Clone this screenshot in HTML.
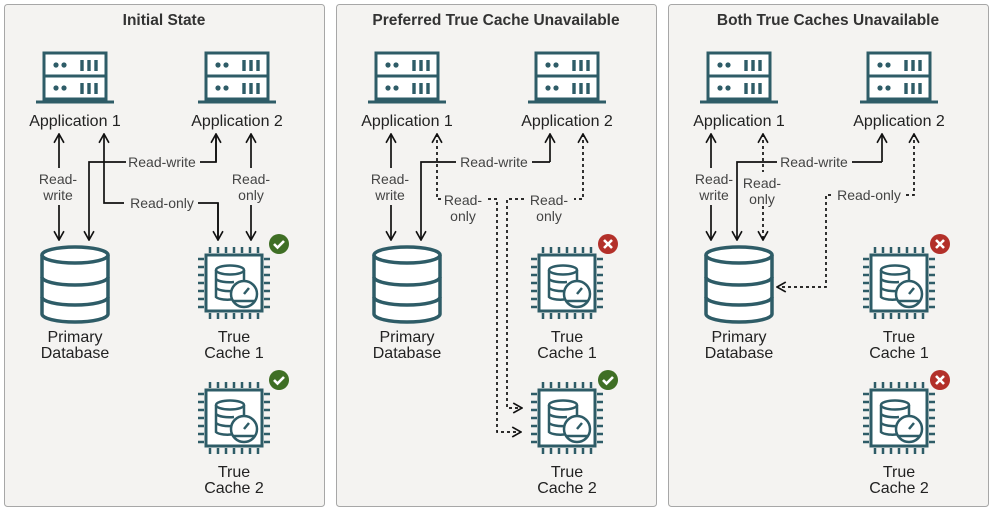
<!DOCTYPE html>
<html><head><meta charset="utf-8"><style>
html,body{margin:0;padding:0;background:#fff;}
svg{display:block;font-family:"Liberation Sans",sans-serif;}
text{fill:#222;}
.t{font-size:15.5px;font-weight:bold;text-anchor:middle;fill:#333;}
.l{font-size:16px;text-anchor:middle;}
.s{font-size:14px;text-anchor:middle;fill:#444;}
.ln{fill:none;stroke:#111;stroke-width:1.7;}
.dl{fill:none;stroke:#111;stroke-width:1.7;stroke-dasharray:3 3;}
</style></head><body>
<svg width="992" height="512" viewBox="0 0 992 512" xmlns="http://www.w3.org/2000/svg">
<defs>
<g id="srv" fill="none" stroke="#2e5c67" stroke-width="3">
 <rect x="-31" y="-24" width="62" height="46" fill="#fff"/>
 <line x1="-31" y1="-1" x2="31" y2="-1"/>
 <line x1="-39" y1="25" x2="39" y2="25" stroke-width="3"/>
 <circle cx="-19" cy="-12" r="2.6" fill="#2e5c67" stroke="none"/><circle cx="-11" cy="-12" r="2.6" fill="#2e5c67" stroke="none"/>
 <circle cx="-19" cy="11" r="2.6" fill="#2e5c67" stroke="none"/><circle cx="-11" cy="11" r="2.6" fill="#2e5c67" stroke="none"/>
 <path d="M7 -17v11M14 -17v11M21 -17v11M7 6v11M14 6v11M21 6v11" stroke-width="3.4"/>
</g>
<g id="db" fill="#fff" stroke="#2e5c67" stroke-width="3.5">
 <path d="M-33 0 V59 A33 8 0 0 0 33 59 V0"/>
 <ellipse cx="0" cy="0" rx="33" ry="8"/>
 <path d="M-33 22 A33 8 0 0 0 33 22 M-33 42 A33 8 0 0 0 33 42" fill="none"/>
</g>
<g id="chip" stroke="#2e5c67">
 <rect x="-28" y="-28" width="56" height="56" fill="#fff" stroke-width="3"/>
 <path d="M-24 -36v6M-16 -36v6M-8 -36v6M0 -36v6M8 -36v6M16 -36v6M24 -36v6M-24 30v6M-16 30v6M-8 30v6M0 30v6M8 30v6M16 30v6M24 30v6M-36 -24h6M-36 -16h6M-36 -8h6M-36 0h6M-36 8h6M-36 16h6M-36 24h6M30 -24h6M30 -16h6M30 -8h6M30 0h6M30 8h6M30 16h6M30 24h6" stroke-width="2.5"/>
 <g fill="none" stroke-width="2.5">
  <path d="M-18 -13 V14 A12 4 0 0 0 0 16"/>
  <ellipse cx="-4" cy="-13" rx="14" ry="4.5"/>
  <path d="M10 -13 V0 M-18 -4 A14 4.5 0 0 0 0 -1 M-18 5 A14 4.5 0 0 0 -2 8"/>
  <circle cx="10" cy="11" r="13" fill="#fff"/>
  <path d="M-1 18 H21"/>
  <path d="M10 11 L15 5" stroke-width="2.5"/>
 </g>
</g>
<g id="ok"><circle r="10" fill="#3f6f25"/><path d="M-5 0 L-1.5 3.5 L5 -3" fill="none" stroke="#fff" stroke-width="2.6"/></g>
<g id="no"><circle r="10" fill="#b3302a"/><path d="M-4 -4 L4 4 M4 -4 L-4 4" fill="none" stroke="#fff" stroke-width="2.6"/></g>
<marker id="a" viewBox="0 0 10 10" refX="9" refY="5" markerWidth="11" markerHeight="11" markerUnits="userSpaceOnUse" orient="auto-start-reverse"><path d="M1 0.5 L9 5 L1 9.5" fill="none" stroke="#111" stroke-width="1.5"/></marker>
</defs>

<rect x="4.5" y="4.5" width="320" height="502" rx="3" fill="#f4f3f1" stroke="#a7a7a7"/>
<rect x="336.5" y="4.5" width="320" height="502" rx="3" fill="#f4f3f1" stroke="#a7a7a7"/>
<rect x="668.5" y="4.5" width="320" height="502" rx="3" fill="#f4f3f1" stroke="#a7a7a7"/>
<text class="t" x="164" y="25">Initial State</text>
<text class="t" x="496" y="25">Preferred True Cache Unavailable</text>
<text class="t" x="828" y="25">Both True Caches Unavailable</text>

<!-- panel 1 -->
<use href="#srv" x="75" y="77"/><use href="#srv" x="237" y="77"/>
<text class="l" x="75" y="126">Application 1</text><text class="l" x="237" y="126">Application 2</text>
<path class="ln" d="M59 134 V168" marker-start="url(#a)"/>
<path class="ln" d="M59 205 V240" marker-end="url(#a)"/>
<text class="s" x="58" y="184">Read-</text><text class="s" x="58" y="200">write</text>
<path class="ln" d="M104 134 V203 H124 M198 203 H218 V240" marker-start="url(#a)"/>
<path class="ln" d="M218 203 V240" marker-end="url(#a)"/>
<text class="s" x="162" y="208">Read-only</text>
<path class="ln" d="M216 134 V162 H200 M126 162 H89 V240" marker-end="url(#a)"/>
<path class="ln" d="M216 162 V134" marker-end="url(#a)"/>
<text class="s" x="162" y="167">Read-write</text>
<path class="ln" d="M251 134 V168" marker-start="url(#a)"/>
<path class="ln" d="M251 205 V240" marker-end="url(#a)"/>
<text class="s" x="251" y="184">Read-</text><text class="s" x="251" y="200">only</text>
<use href="#db" x="75" y="255"/>
<text class="l" x="75" y="342">Primary</text><text class="l" x="75" y="358">Database</text>
<use href="#chip" x="234" y="283"/><use href="#ok" x="279" y="244"/>
<text class="l" x="234" y="342">True</text><text class="l" x="234" y="358">Cache 1</text>
<use href="#chip" x="234" y="418"/><use href="#ok" x="279" y="380"/>
<text class="l" x="234" y="477">True</text><text class="l" x="234" y="493">Cache 2</text>

<!-- panel 2 -->
<use href="#srv" x="407" y="77"/><use href="#srv" x="567" y="77"/>
<text class="l" x="407" y="126">Application 1</text><text class="l" x="567" y="126">Application 2</text>
<path class="ln" d="M391 134 V168" marker-start="url(#a)"/>
<path class="ln" d="M391 205 V240" marker-end="url(#a)"/>
<text class="s" x="390" y="184">Read-</text><text class="s" x="390" y="200">write</text>
<path class="ln" d="M550 162 V134" marker-end="url(#a)"/>
<path class="ln" d="M550 162 H532 M456 162 H421 V240" marker-end="url(#a)"/>
<text class="s" x="494" y="167">Read-write</text>
<path class="dl" d="M437 134 V199 H442" marker-start="url(#a)"/>
<text class="s" x="463" y="205">Read-</text><text class="s" x="463" y="221">only</text>
<path class="dl" d="M488 199 H497 V432 H521" marker-end="url(#a)"/>
<path class="dl" d="M583 134 V199 H574" marker-start="url(#a)"/>
<text class="s" x="549" y="205">Read-</text><text class="s" x="549" y="221">only</text>
<path class="dl" d="M524 199 H507 V408 H522" marker-end="url(#a)"/>
<use href="#db" x="407" y="255"/>
<text class="l" x="407" y="342">Primary</text><text class="l" x="407" y="358">Database</text>
<use href="#chip" x="567" y="283"/><use href="#no" x="608" y="244"/>
<text class="l" x="567" y="342">True</text><text class="l" x="567" y="358">Cache 1</text>
<use href="#chip" x="567" y="418"/><use href="#ok" x="608" y="380"/>
<text class="l" x="567" y="477">True</text><text class="l" x="567" y="493">Cache 2</text>

<!-- panel 3 -->
<use href="#srv" x="739" y="77"/><use href="#srv" x="899" y="77"/>
<text class="l" x="739" y="126">Application 1</text><text class="l" x="899" y="126">Application 2</text>
<path class="ln" d="M711 134 V168" marker-start="url(#a)"/>
<path class="ln" d="M711 205 V240" marker-end="url(#a)"/>
<text class="s" x="714" y="184">Read-</text><text class="s" x="714" y="200">write</text>
<path class="ln" d="M882 162 V134" marker-end="url(#a)"/>
<path class="ln" d="M882 162 H852 M777 162 H737 V240" marker-end="url(#a)"/>
<text class="s" x="814" y="167">Read-write</text>
<path class="dl" d="M763 134 V172" marker-start="url(#a)"/>
<path class="dl" d="M763 206 V240" marker-end="url(#a)"/>
<text class="s" x="762" y="188">Read-</text><text class="s" x="762" y="204">only</text>
<path class="dl" d="M914 134 V195 H906" marker-start="url(#a)"/>
<text class="s" x="869" y="200">Read-only</text>
<path class="dl" d="M831 195 H826 V287 H777" marker-end="url(#a)"/>
<use href="#db" x="739" y="255"/>
<text class="l" x="739" y="342">Primary</text><text class="l" x="739" y="358">Database</text>
<use href="#chip" x="899" y="283"/><use href="#no" x="940" y="244"/>
<text class="l" x="899" y="342">True</text><text class="l" x="899" y="358">Cache 1</text>
<use href="#chip" x="899" y="418"/><use href="#no" x="940" y="380"/>
<text class="l" x="899" y="477">True</text><text class="l" x="899" y="493">Cache 2</text>
</svg>
</body></html>
